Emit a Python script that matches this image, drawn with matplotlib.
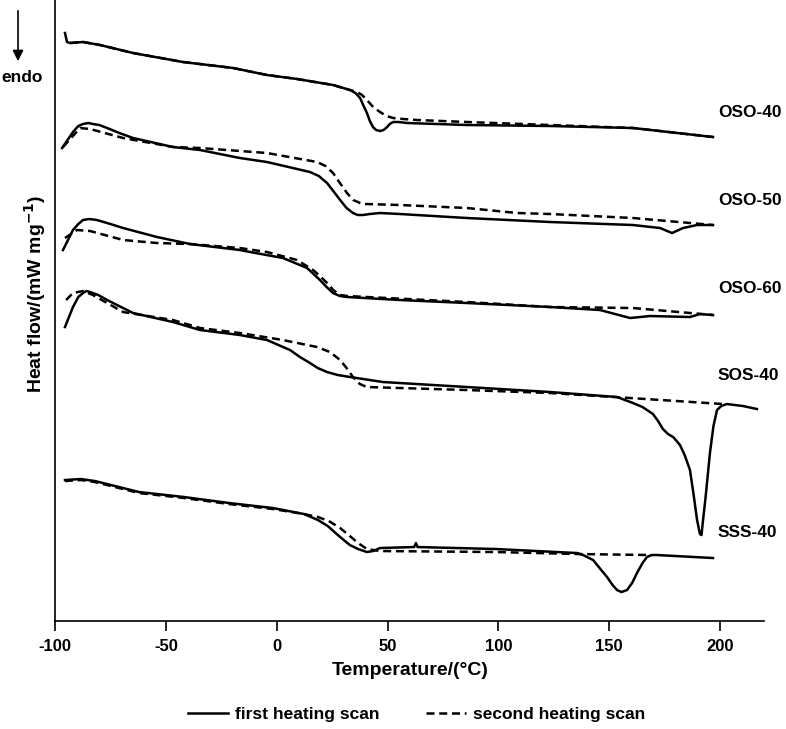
import matplotlib
matplotlib.use('Agg')
import matplotlib.pyplot as plt

plt.rcParams['font.family'] = ['Liberation Sans', 'DejaVu Sans']
plt.rcParams['font.weight'] = 'bold'
plt.rcParams['axes.unicode_minus'] = False

# Datos (T en grados C, flujo de calor en unidades arbitrarias, curvas desplazadas)
oso40_t1 = [-95.5, -94.6, -93.2, -87.4, -79.7, -64.8, -42.3, -19.7, -4.4, 9.2, 25.4, 33.1, 35.5,
            37.6, 39.0, 40.7, 42.0, 43.4, 44.8, 46.6, 48.2, 49.8, 51.0, 52.5, 55.0, 58.8, 85.8,
            123.3, 160.7, 196.8]
oso40_h1 = [5.88, 5.79, 5.78, 5.79, 5.76, 5.68, 5.59, 5.53, 5.46, 5.42, 5.36, 5.31, 5.28,
            5.23, 5.16, 5.08, 5.00, 4.94, 4.91, 4.90, 4.91, 4.94, 4.97, 4.99, 4.99, 4.98, 4.96,
            4.95, 4.93, 4.84]
oso40_t2 = [-93.2, -87.4, -79.7, -64.8, -42.3, -19.7, -4.4, 9.2, 25.4, 29.9, 33.0, 36.2, 38.5,
            40.7, 43.5, 46.6, 49.5, 52.5, 57.0, 63.3, 85.8, 123.3, 160.7, 196.8]
oso40_h2 = [5.78, 5.79, 5.76, 5.68, 5.59, 5.53, 5.46, 5.42, 5.36, 5.33, 5.31, 5.29, 5.26,
            5.21, 5.14, 5.09, 5.05, 5.03, 5.02, 5.01, 4.99, 4.96, 4.93, 4.84]

oso50_t1 = [-96.8, -91.9, -89.5, -87.4, -85.0, -82.9, -80.0, -76.5, -71.0, -64.8, -46.8, -34.6,
            -16.6, -4.4, 15.0, 19.0, 22.7, 25.5, 28.6, 31.5, 34.4, 36.5, 38.9, 42.0, 46.6, 55.6,
            85.8, 123.3, 160.7, 172.9, 178.3, 183.3, 189.6, 196.8]
oso50_h1 = [4.73, 4.89, 4.95, 4.97, 4.98, 4.97, 4.96, 4.93, 4.88, 4.83, 4.74, 4.71,
            4.63, 4.59, 4.49, 4.45, 4.38, 4.30, 4.21, 4.13, 4.08, 4.06, 4.06, 4.07, 4.08, 4.07,
            4.03, 3.99, 3.96, 3.93, 3.88, 3.93, 3.96, 3.96]
oso50_t2 = [-96.4, -88.7, -84.2, -69.3, -46.8, -34.6, -4.4, 18.2, 22.0, 25.4, 28.5, 31.7, 34.5,
            37.6, 40.0, 55.6, 85.8, 108.4, 123.3, 160.7, 196.8]
oso50_h2 = [4.74, 4.93, 4.92, 4.83, 4.74, 4.73, 4.68, 4.59, 4.55, 4.48, 4.38, 4.28, 4.21,
            4.18, 4.17, 4.16, 4.13, 4.08, 4.07, 4.03, 3.96]

oso60_t1 = [-96.4, -91.9, -89.5, -87.4, -84.5, -81.1, -75.0, -69.3, -54.0, -39.1, -16.6, -12.0,
            2.8, 13.7, 19.5, 22.5, 25.4, 28.5, 31.7, 55.6, 85.8, 123.3, 145.8, 159.4, 168.4,
            186.4, 190.9, 196.8]
oso60_h1 = [3.71, 3.91, 3.97, 4.01, 4.02, 4.01, 3.97, 3.93, 3.84, 3.77, 3.71, 3.69,
            3.63, 3.53, 3.41, 3.34, 3.28, 3.25, 3.24, 3.21, 3.18, 3.14, 3.11, 3.03, 3.05,
            3.04, 3.07, 3.06]
oso60_t2 = [-95.5, -90.1, -84.2, -69.3, -54.0, -39.1, -16.6, -4.4, 9.2, 16.4, 19.5, 22.7, 25.5,
            28.6, 32.0, 40.7, 85.8, 123.3, 160.7, 196.8]
oso60_h2 = [3.83, 3.91, 3.90, 3.81, 3.78, 3.77, 3.73, 3.69, 3.61, 3.51, 3.45, 3.38, 3.31,
            3.26, 3.25, 3.24, 3.19, 3.14, 3.13, 3.06]

sos40_t1 = [-95.5, -91.9, -89.5, -87.4, -85.8, -84.2, -80.5, -76.5, -64.8, -46.8, -34.6, -16.6,
            -4.4, 6.0, 10.5, 15.0, 18.5, 22.7, 27.5, 33.1, 47.9, 85.8, 123.3, 153.5, 160.7,
            165.0, 169.7, 172.0, 174.2, 176.5, 178.8, 180.0, 181.9, 184.0, 186.4, 188.0, 189.6,
            190.9, 191.6, 192.3, 193.5, 195.4, 197.0, 198.6, 200.5, 203.1, 210.3, 216.6]
sos40_h1 = [2.94, 3.14, 3.24, 3.28, 3.30, 3.29, 3.26, 3.21, 3.08, 2.99, 2.91, 2.86,
            2.81, 2.71, 2.64, 2.58, 2.53, 2.49, 2.46, 2.44, 2.39, 2.34, 2.29, 2.24, 2.18,
            2.14, 2.07, 2.00, 1.92, 1.87, 1.84, 1.81, 1.76, 1.66, 1.51, 1.27, 1.01,
            0.87, 0.86, 1.01, 1.25, 1.68, 1.95, 2.11, 2.15, 2.17, 2.15, 2.12]
sos40_t2 = [-95.0, -91.9, -87.4, -82.9, -69.3, -46.8, -34.6, -16.6, 2.8, 18.2, 24.0, 28.6, 31.5,
            34.4, 37.5, 40.7, 85.8, 123.3, 159.4, 201.3]
sos40_h2 = [3.21, 3.28, 3.30, 3.26, 3.09, 3.01, 2.93, 2.88, 2.81, 2.74, 2.69, 2.61, 2.53,
            2.44, 2.37, 2.34, 2.31, 2.28, 2.23, 2.17]

sss40_t1 = [-95.5, -88.3, -82.0, -62.1, -41.8, -21.5, -1.7, 12.3, 18.6, 23.0, 28.6, 33.0, 36.7,
            40.7, 43.5, 46.6, 62.0, 62.8, 63.5, 98.9, 135.5, 138.2, 142.7, 146.0, 149.0, 151.5,
            153.5, 155.5, 158.0, 160.3, 162.5, 165.0, 167.0, 169.0, 171.5, 196.8]
sss40_h1 = [1.41, 1.42, 1.40, 1.29, 1.24, 1.18, 1.13, 1.07, 1.01, 0.95, 0.84, 0.76, 0.72,
            0.69, 0.70, 0.73, 0.74, 0.78, 0.74, 0.72, 0.68, 0.66, 0.61, 0.52, 0.44, 0.36,
            0.31, 0.29, 0.31, 0.38, 0.48, 0.58, 0.64, 0.66, 0.66, 0.63]
sss40_t2 = [-95.5, -88.3, -82.0, -62.1, -41.8, -21.5, -1.7, 12.3, 18.6, 23.5, 28.6, 33.0, 36.7,
            40.7, 46.6, 98.9, 135.5, 168.4]
sss40_h2 = [1.40, 1.41, 1.39, 1.28, 1.23, 1.17, 1.12, 1.07, 1.04, 1.00, 0.93, 0.85, 0.78,
            0.72, 0.70, 0.69, 0.67, 0.66]

muestras = ['OSO-40', 'OSO-50', 'OSO-60', 'SOS-40', 'SSS-40']
etiqueta_y = [5.09, 4.21, 3.33, 2.46, 0.89]

primera = [(oso40_t1, oso40_h1), (oso50_t1, oso50_h1), (oso60_t1, oso60_h1),
           (sos40_t1, sos40_h1), (sss40_t1, sss40_h1)]
segunda = [(oso40_t2, oso40_h2), (oso50_t2, oso50_h2), (oso60_t2, oso60_h2),
           (sos40_t2, sos40_h2), (sss40_t2, sss40_h2)]

fig = plt.figure(figsize=(7.86, 7.29), dpi=100)
ax = fig.add_axes([0.0700, 0.1481, 0.9026, 0.8519])

for i, (t, h) in enumerate(primera):
    ax.plot(t, h, color='black', lw=1.8, solid_joinstyle='round',
            label='first heating scan' if i == 0 else None)
for i, (t, h) in enumerate(segunda):
    ax.plot(t, h, color='black', lw=1.8, ls=(0, (3.2, 1.9)),
            label='second heating scan' if i == 0 else None)

for nombre, y in zip(muestras, etiqueta_y):
    ax.text(199, y, nombre, fontsize=12.5, fontweight='bold', ha='left', va='center')

ax.set_xlim(-100, 220)
ax.set_ylim(0, 6.21)
ax.set_xticks([-100, -50, 0, 50, 100, 150, 200])
ax.set_yticks([])
ax.spines['top'].set_visible(False)
ax.spines['right'].set_visible(False)
ax.spines['left'].set_linewidth(1.2)
ax.spines['bottom'].set_linewidth(1.2)
ax.tick_params(axis='x', direction='out', length=7, width=1.2, labelsize=12, pad=6)
for lab in ax.get_xticklabels():
    lab.set_fontweight('bold')

ax.set_xlabel('Temperature/(°C)', fontsize=14, fontweight='bold', labelpad=6)
ax.set_ylabel('Heat flow/(mW mg$^{\\mathbf{-1}}$)', fontsize=14, fontweight='bold')
ax.yaxis.set_label_coords(-0.010, 0.527)

# flecha endo
fig.text(0.028, 1 - 78 / 729, 'endo', fontsize=12.5, fontweight='bold', ha='center', va='center')
ax.annotate('', xy=(18 / 786, 1 - 64 / 729), xytext=(18 / 786, 1 - 8 / 729),
            xycoords='figure fraction', textcoords='figure fraction',
            arrowprops=dict(arrowstyle='-|>', color='black', lw=1.2, mutation_scale=16))

fig.legend(loc='center', bbox_to_anchor=(0.53, 1 - 714 / 729), ncol=2, frameon=False,
           handlelength=2.3, handletextpad=0.4, columnspacing=2.7,
           prop={'weight': 'bold', 'size': 12.5})

fig.savefig('out.png', dpi=100)
